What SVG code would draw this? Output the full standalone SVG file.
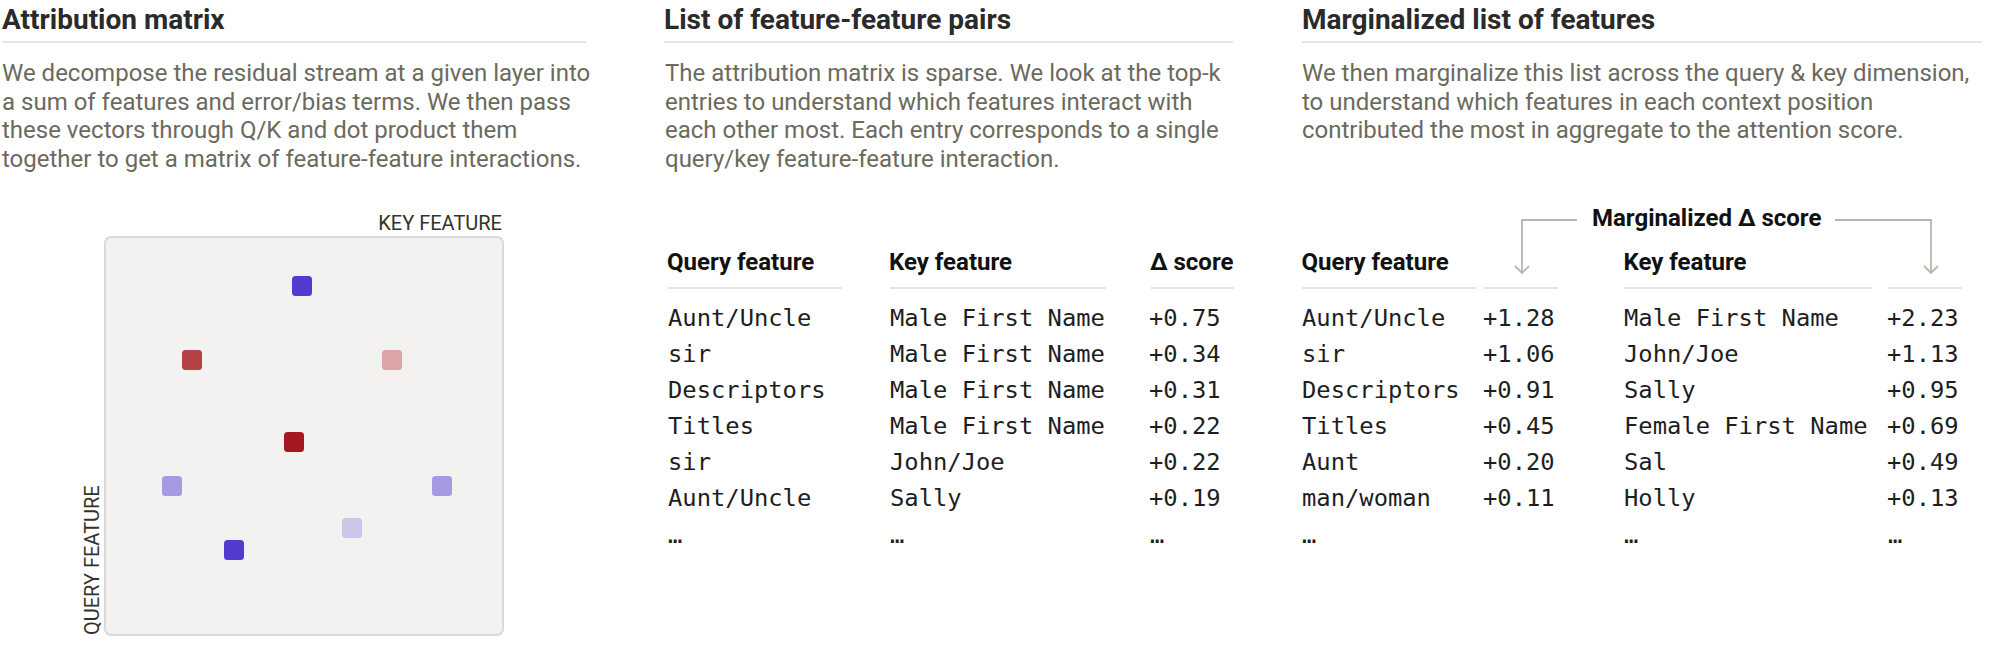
<svg xmlns="http://www.w3.org/2000/svg" width="1990" height="658" viewBox="0 0 1990 658">
  <style>
    .title { font-family: Roboto, 'Liberation Sans', sans-serif; font-weight: 700; font-size: 28px; fill: #2a2a2a; }
    .body { font-family: Roboto, 'Liberation Sans', sans-serif; font-size: 24px; fill: #6c6a5d; }
    .rule { stroke: #e3e3e3; stroke-width: 2; fill: none; }
    .hdr { font-family: Roboto, 'Liberation Sans', sans-serif; font-weight: 700; font-size: 24px; fill: #111111; }
    .mono { font-family: 'DejaVu Sans Mono', 'Liberation Mono', monospace; font-size: 23.8px; fill: #1e1e1e; }
    .axis { font-family: Roboto, 'Liberation Sans', sans-serif; font-size: 20px; fill: #33322c; }
    .box { fill: #f3f2f1; stroke: #dadada; stroke-width: 2; }
    .cell { stroke: none; }
    .conn { fill: none; stroke: #b9b7ad; stroke-width: 1.8; }
  </style>
  <defs>
    <marker id="chev" viewBox="-9 -9 18 18" refX="0" refY="0" markerWidth="18" markerHeight="18" markerUnits="userSpaceOnUse" orient="auto">
      <path d="M-7,-7 L0,0 L-7,7" fill="none" stroke="#b9b7ad" stroke-width="1.8"/>
    </marker>
  </defs>
  <rect x="0" y="0" width="1990" height="658" fill="#ffffff"/>

  <!-- Column 1 -->
  <g id="section-attribution">
    <text class="title" x="2" y="29">Attribution matrix</text>
    <line class="rule" x1="2" y1="42" x2="586" y2="42"/>
    <text class="body" x="2" y="81">We decompose the residual stream at a given layer into</text>
    <text class="body" x="2" y="109.6">a sum of features and error/bias terms. We then pass</text>
    <text class="body" x="2" y="138.2">these vectors through Q/K and dot product them</text>
    <text class="body" x="2" y="166.8">together to get a matrix of feature-feature interactions.</text>
  </g>

  <g id="matrix">
    <text class="axis" x="502" y="230" text-anchor="end">KEY FEATURE</text>
    <text class="axis" transform="translate(99,635) rotate(-90)">QUERY FEATURE</text>
    <rect class="box" x="105" y="237" width="398" height="398" rx="6"/>
    <rect class="cell" x="292" y="276" width="20" height="20" rx="3.5" fill="#533bd0"/>
    <rect class="cell" x="182" y="350" width="20" height="20" rx="3.5" fill="#b44246"/>
    <rect class="cell" x="382" y="350" width="20" height="20" rx="3.5" fill="#dba5a5"/>
    <rect class="cell" x="284" y="432" width="20" height="20" rx="3.5" fill="#a6181f"/>
    <rect class="cell" x="162" y="476" width="20" height="20" rx="3.5" fill="#a59be3"/>
    <rect class="cell" x="432" y="476" width="20" height="20" rx="3.5" fill="#a59be3"/>
    <rect class="cell" x="342" y="518" width="20" height="20" rx="3.5" fill="#ccc6ec"/>
    <rect class="cell" x="224" y="540" width="20" height="20" rx="3.5" fill="#533bd0"/>
  </g>

  <!-- Column 2 -->
  <g id="section-pairs">
    <text class="title" x="664" y="29">List of feature-feature pairs</text>
    <line class="rule" x1="664" y1="42" x2="1233" y2="42"/>
    <text class="body" x="665" y="81">The attribution matrix is sparse. We look at the top-k</text>
    <text class="body" x="665" y="109.6">entries to understand which features interact with</text>
    <text class="body" x="665" y="138.2">each other most. Each entry corresponds to a single</text>
    <text class="body" x="665" y="166.8">query/key feature-feature interaction.</text>
  </g>

  <g id="table-pairs">
    <text class="hdr" x="667" y="270">Query feature</text>
    <text class="hdr" x="889" y="270">Key feature</text>
    <text class="hdr" x="1150" y="270">Δ score</text>
    <line class="rule" x1="668" y1="288" x2="842" y2="288"/>
    <line class="rule" x1="890" y1="288" x2="1106" y2="288"/>
    <line class="rule" x1="1151" y1="288" x2="1234" y2="288"/>
    <g>
      <text class="mono" x="668" y="326">Aunt/Uncle</text>
      <text class="mono" x="668" y="362">sir</text>
      <text class="mono" x="668" y="398">Descriptors</text>
      <text class="mono" x="668" y="434">Titles</text>
      <text class="mono" x="668" y="470">sir</text>
      <text class="mono" x="668" y="506">Aunt/Uncle</text>
      <text class="mono" x="668" y="543">…</text>
      <text class="mono" x="890" y="326">Male First Name</text>
      <text class="mono" x="890" y="362">Male First Name</text>
      <text class="mono" x="890" y="398">Male First Name</text>
      <text class="mono" x="890" y="434">Male First Name</text>
      <text class="mono" x="890" y="470">John/Joe</text>
      <text class="mono" x="890" y="506">Sally</text>
      <text class="mono" x="890" y="543">…</text>
      <text class="mono" x="1149" y="326">+0.75</text>
      <text class="mono" x="1149" y="362">+0.34</text>
      <text class="mono" x="1149" y="398">+0.31</text>
      <text class="mono" x="1149" y="434">+0.22</text>
      <text class="mono" x="1149" y="470">+0.22</text>
      <text class="mono" x="1149" y="506">+0.19</text>
      <text class="mono" x="1150" y="543">…</text>
    </g>
  </g>

  <!-- Column 3 -->
  <g id="section-marginal">
    <text class="title" x="1302" y="29">Marginalized list of features</text>
    <line class="rule" x1="1302" y1="42" x2="1982" y2="42"/>
    <text class="body" x="1302" y="81">We then marginalize this list across the query &amp; key dimension,</text>
    <text class="body" x="1302" y="109.6">to understand which features in each context position</text>
    <text class="body" x="1302" y="138.2">contributed the most in aggregate to the attention score.</text>
  </g>

  <g id="table-marginal">
    <text class="hdr" x="1592" y="226">Marginalized Δ score</text>
    <text class="hdr" x="1301.5" y="270">Query feature</text>
    <text class="hdr" x="1623.5" y="270">Key feature</text>
    <line class="rule" x1="1302" y1="288" x2="1476" y2="288"/>
    <line class="rule" x1="1484" y1="288" x2="1558" y2="288"/>
    <line class="rule" x1="1624" y1="288" x2="1872" y2="288"/>
    <line class="rule" x1="1888" y1="288" x2="1962" y2="288"/>
    <g>
      <text class="mono" x="1302" y="326">Aunt/Uncle</text>
      <text class="mono" x="1302" y="362">sir</text>
      <text class="mono" x="1302" y="398">Descriptors</text>
      <text class="mono" x="1302" y="434">Titles</text>
      <text class="mono" x="1302" y="470">Aunt</text>
      <text class="mono" x="1302" y="506">man/woman</text>
      <text class="mono" x="1302" y="543">…</text>
      <text class="mono" x="1483" y="326">+1.28</text>
      <text class="mono" x="1483" y="362">+1.06</text>
      <text class="mono" x="1483" y="398">+0.91</text>
      <text class="mono" x="1483" y="434">+0.45</text>
      <text class="mono" x="1483" y="470">+0.20</text>
      <text class="mono" x="1483" y="506">+0.11</text>
      <text class="mono" x="1624" y="326">Male First Name</text>
      <text class="mono" x="1624" y="362">John/Joe</text>
      <text class="mono" x="1624" y="398">Sally</text>
      <text class="mono" x="1624" y="434">Female First Name</text>
      <text class="mono" x="1624" y="470">Sal</text>
      <text class="mono" x="1624" y="506">Holly</text>
      <text class="mono" x="1624" y="543">…</text>
      <text class="mono" x="1887" y="326">+2.23</text>
      <text class="mono" x="1887" y="362">+1.13</text>
      <text class="mono" x="1887" y="398">+0.95</text>
      <text class="mono" x="1887" y="434">+0.69</text>
      <text class="mono" x="1887" y="470">+0.49</text>
      <text class="mono" x="1887" y="506">+0.13</text>
      <text class="mono" x="1888" y="543">…</text>
    </g>
  </g>

  <g id="connectors">
    <path class="conn" d="M1577,220 H1522 V273" marker-end="url(#chev)"/>
    <path class="conn" d="M1835,220 H1931 V273" marker-end="url(#chev)"/>
  </g>
</svg>
